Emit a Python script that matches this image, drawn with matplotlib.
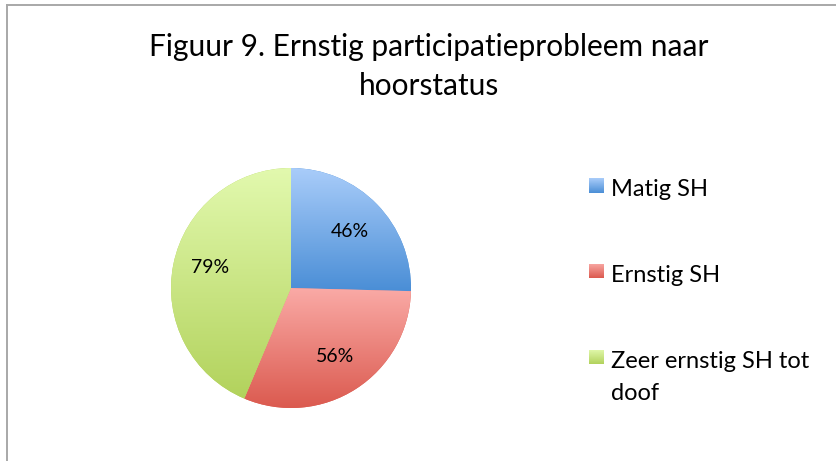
import numpy as np
import matplotlib
matplotlib.use("Agg")
import matplotlib.pyplot as plt
from matplotlib.lines import Line2D
from matplotlib.colors import to_rgb

plt.rcParams["font.family"] = ["Lato", "DejaVu Sans"]

# data
categories = ["Matig SH", "Ernstig SH", "Zeer ernstig SH tot\ndoof"]
values = [46, 56, 79]
title = "Figuur 9. Ernstig participatieprobleem naar\nhoorstatus"

# gradient colours (top, bottom) per slice
top_colors = ["#aacdfa", "#faaaa6", "#e2f9ae"]
bottom_colors = ["#4a8ed6", "#db5a4f", "#b2d25c"]


def gradient(top, bottom, n=256):
    t = np.linspace(0, 1, n)[:, None]
    a = np.array(to_rgb(bottom))
    b = np.array(to_rgb(top))
    return (a + (b - a) * t)[:, None, :]


W, H = 837, 461
fig = plt.figure(figsize=(W / 100, H / 100), dpi=100)

# chart border (only left and top are visible in the crop)
fig.add_artist(Line2D([7 / W, 7 / W], [0, 1 - 5 / H], color="#a8a8a8", lw=1.4))
fig.add_artist(Line2D([7 / W, 1], [1 - 5 / H, 1 - 5 / H], color="#a8a8a8", lw=1.4))

fig.text(429 / W, 1 - 66.5 / H, title, ha="center", va="center", fontsize=21.5,
         linespacing=1.47, color="black")

# pie
cx, cy, r = 291, 288, 120
ax = fig.add_axes([(cx - r) / W, (H - cy - r) / H, 2 * r / W, 2 * r / H])
total = sum(values)
wedges, _, pct_texts = ax.pie(values, startangle=90, counterclock=False,
                              colors=bottom_colors,
                              autopct=lambda p: f"{round(p * total / 100)}%",
                              pctdistance=0.68,
                              textprops=dict(fontsize=14, color="black"))

for w, tc, bc in zip(wedges, top_colors, bottom_colors):
    ext = w.get_path().get_extents()
    im = ax.imshow(gradient(tc, bc), extent=[ext.x0, ext.x1, ext.y0, ext.y1],
                   origin="lower", aspect="auto", zorder=w.get_zorder() + 0.1)
    im.set_clip_path(w)
ax.set_xlim(-1, 1)
ax.set_ylim(-1, 1)
ax.axis("off")
for t in pct_texts:
    t.set_zorder(5)
# Excel put the last label further to the left
pct_texts[2].set_position((-0.675, 0.175))

# legend
legend_y = [186, 271, 357]
line_gap = 32
for lab, y, tc, bc in zip(categories, legend_y, top_colors, bottom_colors):
    lax = fig.add_axes([589 / W, (H - y - 7.5) / H, 15 / W, 15 / H])
    lax.imshow(gradient(tc, bc), origin="lower", aspect="auto", extent=[0, 1, 0, 1])
    lax.axis("off")
    # va="baseline" anchors the last line, so push multi-line labels down
    base = y + 10.5 + lab.count("\n") * line_gap
    fig.text(611 / W, 1 - base / H, lab, ha="left", va="baseline",
             fontsize=17, linespacing=1.6, color="black")

fig.savefig("out.png", dpi=100)
